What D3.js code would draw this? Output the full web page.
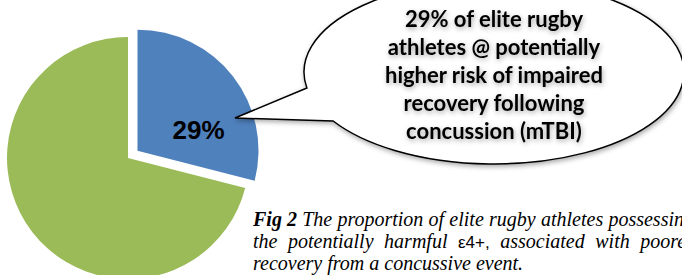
<!DOCTYPE html>
<html>
<head>
<meta charset="utf-8">
<script src="https://cdn.jsdelivr.net/npm/d3@7"></script>
<style>
  html, body { margin: 0; padding: 0; background: #fff; overflow: hidden; }
</style>
</head>
<body>
<div id="chart"></div>
<script>
// data
const groups = ["ε4+", "ε4−"];
const shares = [29, 71];
const sliceColors = ["#4f81bd", "#9bbb59"];
const calloutLines = [
    "29% of elite rugby",
    "athletes @ potentially",
    "higher risk of impaired",
    "recovery following",
    "concussion (mTBI)"
];
const captionLines = [
    [{ t: "Fig 2", bold: true }, "The", "proportion", "of", "elite", "rugby", "athletes", "possessing"],
    ["the", "potentially", "harmful", { t: "ε4+,", sans: true }, "associated", "with", "poorer"],
    ["recovery", "from", "a", "concussive", "event."]
];

const width = 682;
const height = 275;

const svg = d3.select("#chart")
    .append("svg")
    .attr("width", width)
    .attr("height", height);

const defs = svg.append("defs");
defs.append("filter")
    .attr("id", "shadow")
    .attr("x", "-20%").attr("y", "-20%")
    .attr("width", "140%").attr("height", "140%")
    .append("feDropShadow")
    .attr("dx", 1).attr("dy", 2)
    .attr("stdDeviation", 2.5)
    .attr("flood-color", "#000")
    .attr("flood-opacity", 0.35);

// pie
const radius = 121;
const explode = 12;
const pieG = svg.append("g")
    .attr("transform", "translate(128,158)");

const pie = d3.pie().sort(null).value(d => d);
const arcs = pie(shares);
const arc = d3.arc().innerRadius(0).outerRadius(radius);

pieG.selectAll("path")
    .data(arcs)
    .join("path")
    .attr("d", arc)
    .attr("fill", (d, i) => sliceColors[i])
    .attr("transform", (d, i) => {
        if (i !== 0) return null;
        const a = (d.startAngle + d.endAngle) / 2;
        return `translate(${Math.sin(a) * explode},${-Math.cos(a) * explode})`;
    });

// label on the blue slice
const labelArc = d3.arc().innerRadius(radius * 0.55).outerRadius(radius * 0.55);
const c = labelArc.centroid(arcs[0]);
pieG.append("text")
    .attr("x", c[0] + 18)
    .attr("y", c[1] + 22)
    .attr("text-anchor", "middle")
    .attr("font-family", "Liberation Sans, Arial, sans-serif")
    .attr("font-weight", "bold")
    .attr("font-size", 26)
    .attr("fill", "#000")
    .text(shares[0] + "%");

// speech bubble
const ex = 494, ey = 72, rx = 190, ry = 92;
const tip = [235, 118];
const onEllipse = y => {
    const s = (y - ey) / ry;
    return [ex - rx * Math.sqrt(1 - s * s), y];
};
const pA = onEllipse(88);
const pB = onEllipse(121);
const bubble = `M${pA[0]},${pA[1]} L${tip[0]},${tip[1]} L${pB[0]},${pB[1]} ` +
    `A${rx},${ry} 0 1 0 ${pA[0]},${pA[1]} Z`;

svg.append("path")
    .attr("d", bubble)
    .attr("fill", "#fff")
    .attr("stroke", "#000")
    .attr("stroke-width", 1.5)
    .attr("stroke-linejoin", "miter")
    .attr("filter", "url(#shadow)");

svg.append("g")
    .attr("filter", "url(#shadow)")
    .selectAll("text")
    .data(calloutLines)
    .join("text")
    .attr("x", ex)
    .attr("y", (d, i) => 27 + i * 28)
    .attr("text-anchor", "middle")
    .attr("font-family", "Lato, sans-serif")
    .attr("font-weight", "bold")
    .attr("font-size", 22)
    .attr("fill", "#000")
    .text(d => d);

// caption, justified like the source
const capX = 253, capRight = 694;
const capG = svg.append("g")
    .attr("font-family", "Liberation Serif, Times New Roman, serif")
    .attr("font-style", "italic")
    .attr("font-size", 20)
    .attr("fill", "#000");

captionLines.forEach((words, li) => {
    const y = 226 + li * 22;
    const nodes = words.map(w => {
        const o = typeof w === "string" ? { t: w } : w;
        const t = capG.append("text").attr("y", y).text(o.t);
        if (o.bold) t.attr("font-weight", "bold");
        if (o.sans) t.attr("font-style", "normal")
            .attr("font-family", "Liberation Sans, Arial, sans-serif")
            .attr("font-size", 17);
        return t;
    });
    const widths = nodes.map(n => n.node().getComputedTextLength());
    const total = d3.sum(widths);
    const last = li === captionLines.length - 1;
    const gap = last ? 5 : (capRight - capX - total) / (nodes.length - 1);
    let x = capX;
    nodes.forEach((n, i) => {
        n.attr("x", x);
        x += widths[i] + gap;
    });
});
</script>
</body>
</html>
